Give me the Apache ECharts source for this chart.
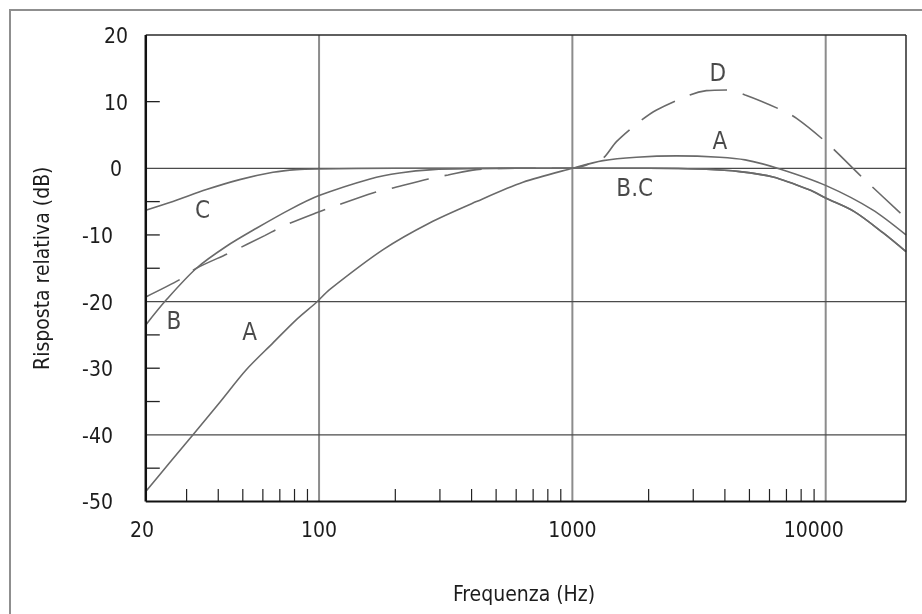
<!DOCTYPE html>
<html>
<head>
<meta charset="utf-8">
<script src="https://cdn.jsdelivr.net/npm/echarts@6.0.0/dist/echarts.min.js"></script>
<style>
  html, body { margin: 0; padding: 0; background: #fff; }
  #chart { width: 922px; height: 614px; }
</style>
</head>
<body>
<div id="chart"></div>
<script>
// axis limits (Hz, dB)
var X_START = 20.7, X_MAX = 20750, Y_MIN = -50, Y_MAX = 20;

var xLabels = [20, 100, 1000, 10000];
var gridFreqs = [100, 1000, 10000];
var gridDb = [0, -20, -40];
var xMinorTicks = [30, 40, 50, 60, 70, 80, 90, 200, 300, 400, 500, 600, 700, 800, 900,
  2000, 3000, 4000, 5000, 6000, 7000, 8000, 9000];
var yTicks = [10, -5, -10, -15, -25, -30, -35, -45];

// curves
var freqA = [20.7, 25.7, 31.8, 40.6, 51.7, 65.8, 81.4, 97.7, 110, 179, 273, 418, 638, 1000,
  1321, 1790, 2575, 3812, 4810, 6590, 10040, 15260, 20750];
var dbA = [-48.5, -44.2, -40.0, -35.1, -30.2, -26.2, -22.7, -20.1, -18.2, -12.2, -8.2, -5.0, -2.1, 0,
  1.15, 1.66, 1.86, 1.66, 1.26, -0.1, -2.6, -6.2, -10.0];

var freqB = [20.7, 25, 32.8, 43.1, 56.6, 76.6, 100, 159, 208, 281, 418, 600, 1000, 2000,
  3380, 4580, 6200, 8560, 10040, 12970, 16870, 20750];
var dbB = [-23.5, -19.7, -15.0, -11.7, -9.0, -6.2, -4.1, -1.6, -0.7, -0.2, -0.05, 0, 0, 0,
  -0.15, -0.5, -1.3, -3.2, -4.5, -6.5, -9.7, -12.5];

var freqC = [20.7, 26.5, 35.9, 48.6, 65.8, 81.4, 100, 200, 1000, 2000,
  3380, 4580, 6200, 8560, 10040, 12970, 16870, 20750];
var dbC = [-6.3, -5.0, -3.2, -1.7, -0.6, -0.2, -0.1, 0, 0, 0,
  -0.15, -0.5, -1.3, -3.2, -4.5, -6.5, -9.7, -12.5];

var freqD = [20.7, 28.2, 32.8, 44.3, 61, 72, 99, 117, 163, 193, 270, 323, 418, 600, 1000,
  1135, 1321, 1493, 1842, 2150, 2910, 3380, 4060, 4810, 6590, 7675, 10040, 14150, 20750];
var dbD = [-19.3, -16.7, -15.0, -12.7, -10.1, -8.7, -6.6, -5.6, -3.7, -3.0, -1.6, -1.0, -0.2, 0, 0,
  0.5, 1.5, 4.0, 7.0, 8.75, 11.0, 11.65, 11.75, 11.0, 8.85, 7.5, 3.9, -1.6, -7.5];

// curve letters
var labelNames = ['D', 'A', 'B.C', 'C', 'B', 'A'];
var labelFreq = [3750, 3820, 1762, 34.7, 26.7, 53.2];
var labelDb = [14.0, 3.8, -3.2, -6.5, -23.2, -24.8];

var FONT = "'Liberation Sans Narrow', 'DejaVu Sans Condensed', 'Roboto Condensed', sans-serif";
var CURVE = '#6a6a6a';
var INK = '#1c1c1c';
var FS = 21;

function zip(xs, ys) {
  var out = [];
  for (var i = 0; i < xs.length; i++) out.push([xs[i], ys[i]]);
  return out;
}

function seg(api, a, b, style) {
  var p = api.coord(a), q = api.coord(b);
  return { type: 'line', shape: { x1: p[0], y1: p[1], x2: q[0], y2: q[1] }, style: style };
}

function curve(name, xs, ys, dashed) {
  return {
    name: name,
    type: 'line',
    data: zip(xs, ys),
    showSymbol: false,
    smooth: 0.3,
    z: 3,
    lineStyle: { color: CURVE, width: 1.6, type: dashed ? [38, 16] : 'solid' }
  };
}

var chart = echarts.init(document.getElementById('chart'));

var option = {
  animation: false,
  backgroundColor: '#fff',
  grid: { left: 142, right: 16, top: 35, bottom: 112.5 },
  graphic: [{
    type: 'rect', silent: true,
    shape: { x: 10, y: 10, width: 1400, height: 1400 },
    style: { fill: 'none', stroke: '#8f8f8f', lineWidth: 2 }
  }],
  xAxis: {
    type: 'log',
    logBase: 10,
    min: 20,
    max: X_MAX,
    name: 'Frequenza (Hz)',
    nameLocation: 'middle',
    nameGap: 84,
    nameTextStyle: { fontFamily: FONT, fontSize: FS, color: INK },
    axisLine: { show: false },
    axisTick: { show: false },
    splitLine: { show: false },
    axisLabel: {
      margin: 20,
      fontFamily: FONT,
      fontSize: FS,
      color: INK,
      showMaxLabel: false,
      formatter: function (v) {
        var r = Math.round(v);
        if (xLabels.indexOf(r) < 0) return '';
        if (r === 10000) return '{s|' + r + '}';
        return String(r);
      },
      rich: { s: { fontFamily: FONT, fontSize: FS, color: INK, padding: [0, 24, 0, 0] } }
    }
  },
  yAxis: {
    type: 'value',
    min: Y_MIN,
    max: Y_MAX,
    interval: 10,
    name: 'Risposta relativa (dB)',
    nameLocation: 'middle',
    nameGap: 88,
    nameTextStyle: { fontFamily: FONT, fontSize: FS, color: INK },
    axisLine: { show: false },
    axisTick: { show: false },
    splitLine: { show: false },
    axisLabel: {
      margin: 26,
      align: 'center',
      formatter: function (v) {
        return v < 0 ? '{n|' + v + '}' : '{p|' + v + '}';
      },
      rich: {
        p: { fontFamily: FONT, fontSize: FS, color: INK, padding: [5, 0, 0, 0] },
        n: { fontFamily: FONT, fontSize: FS, color: INK, padding: [5, 37, 0, 0] }
      }
    }
  },
  series: [
    {
      name: 'gridV', type: 'custom', silent: true, z: 1,
      data: gridFreqs.map(function (f) { return [f, 0]; }),
      renderItem: function (params, api) {
        var f = api.value(0);
        return seg(api, [f, Y_MAX], [f, Y_MIN], { stroke: '#8c8c8c', lineWidth: 2 });
      }
    },
    {
      name: 'gridH', type: 'custom', silent: true, z: 1,
      data: gridDb.map(function (d) { return [X_START, d]; }),
      renderItem: function (params, api) {
        var d = api.value(1);
        return seg(api, [X_START, d], [X_MAX, d], { stroke: '#4a4a4a', lineWidth: 1.3 });
      }
    },
    {
      name: 'xTicks', type: 'custom', silent: true, z: 2,
      data: xMinorTicks.map(function (f) { return [f, Y_MIN]; }),
      renderItem: function (params, api) {
        var p = api.coord([api.value(0), Y_MIN]);
        return { type: 'line', shape: { x1: p[0], y1: p[1], x2: p[0], y2: p[1] - 12.5 },
          style: { stroke: '#222', lineWidth: 1.2 } };
      }
    },
    {
      name: 'yTicks', type: 'custom', silent: true, z: 2,
      data: yTicks.map(function (d) { return [X_START, d]; }),
      renderItem: function (params, api) {
        var p = api.coord([X_START, api.value(1)]);
        return { type: 'line', shape: { x1: p[0], y1: p[1], x2: p[0] + 14, y2: p[1] },
          style: { stroke: '#222', lineWidth: 1.3 } };
      }
    },
    {
      name: 'frame', type: 'custom', silent: true, z: 4,
      data: [[X_START, Y_MIN]],
      renderItem: function (params, api) {
        return {
          type: 'group',
          children: [
            seg(api, [X_START, Y_MAX], [X_MAX, Y_MAX], { stroke: '#2a2a2a', lineWidth: 1.5 }),
            seg(api, [X_MAX, Y_MAX], [X_MAX, Y_MIN], { stroke: '#2a2a2a', lineWidth: 1.5 }),
            seg(api, [X_START, Y_MIN], [X_MAX, Y_MIN], { stroke: '#111', lineWidth: 2.2 }),
            seg(api, [X_START, Y_MAX], [X_START, Y_MIN], { stroke: '#111', lineWidth: 2.5 })
          ]
        };
      }
    },
    curve('A', freqA, dbA, false),
    curve('B', freqB, dbB, false),
    curve('C', freqC, dbC, false),
    curve('D', freqD, dbD, true),
    {
      name: 'labels', type: 'scatter', silent: true, z: 10,
      symbolSize: 1,
      itemStyle: { color: 'rgba(0,0,0,0)' },
      data: labelNames.map(function (n, i) {
        return { name: n, value: [labelFreq[i], labelDb[i]] };
      }),
      label: {
        show: true, position: 'inside', formatter: '{b}',
        fontFamily: FONT, fontSize: 24, color: INK
      }
    }
  ]
};

chart.setOption(option);
</script>
</body>
</html>
